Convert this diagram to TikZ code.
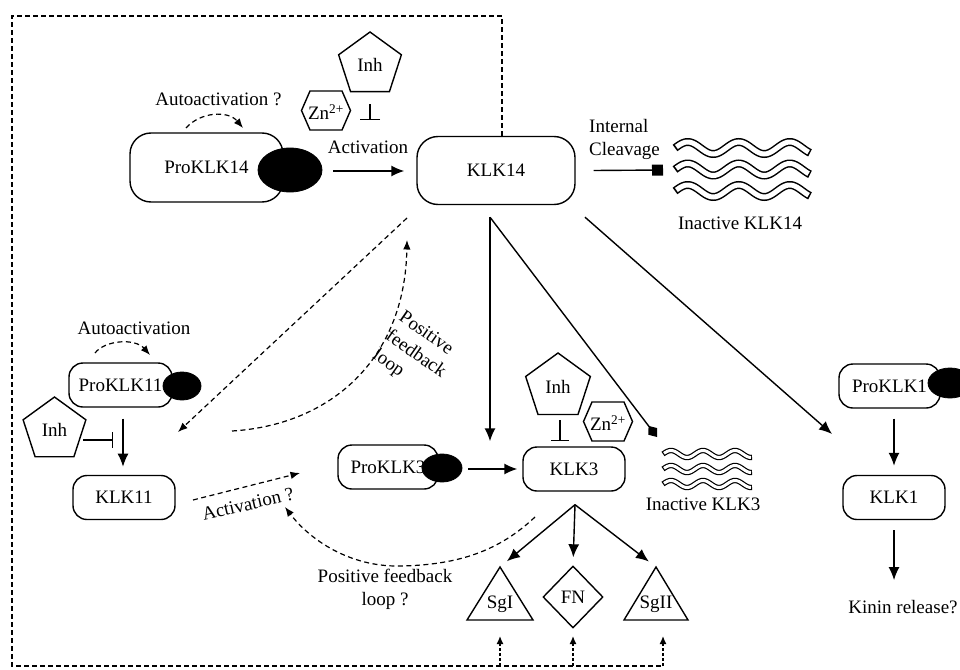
\documentclass[tikz,border=0pt]{standalone}
\usepackage{fontspec}
\setmainfont{Liberation Serif}
\usetikzlibrary{arrows.meta,shapes.geometric,calc}
\begin{document}
\begin{tikzpicture}[x=1pt,y=-1pt,
  every node/.style={font=\fontsize{19}{23}\selectfont, inner sep=0pt},
  bigbox/.style={draw, line width=1.4pt, rounded corners=21pt, minimum width=153pt, minimum height=69pt},
  smallbox/.style={draw, line width=1.4pt, rounded corners=14pt, minimum width=102pt, minimum height=44pt},
  blob/.style={ellipse, fill=black, draw=black, line width=0.8pt},
  solidarrow/.style={line width=1.4pt, -{Latex[length=13pt,width=11pt]}},
  dasharrow/.style={line width=1.2pt, dash pattern=on 5pt off 3.5pt, -{Latex[length=9.5pt,width=7.5pt]}},
  dotarrow/.style={line width=1.4pt, dash pattern=on 3pt off 2pt, -{Latex[length=8pt,width=7pt]}},
  frameline/.style={line width=1.2pt, dash pattern=on 5pt off 3pt},
  shapeline/.style={line width=1.4pt, line join=miter},
  pent/.style={draw, line width=1.4pt, regular polygon, regular polygon sides=5, minimum size=66pt},
  tubeout/.style={line width=8pt, line cap=butt, black},
  tubein/.style={line width=5pt, line cap=butt, white},
  tubeout3/.style={line width=5.4pt, line cap=butt, black},
  tubein3/.style={line width=3pt, line cap=butt, white},
  inhib/.style={line width=1.4pt, -{Bar[width=20pt,line width=1.4pt]}},
]
\useasboundingbox (0,0) rectangle (960,669);

% ---------- KLK14 row ----------
\node[bigbox] (proklk14) at (206.5,167.5) {ProKLK14};
\node[blob, minimum width=64pt, minimum height=44pt] (e14) at (290,170) {};
\node[bigbox, minimum width=158pt, minimum height=68pt] (klk14) at (496,170.5) {KLK14};

\node (auto14) at (218.5,99) {Autoactivation ?};
\coordinate (a14s) at (186,128);
\coordinate (a14e) at (243,128);
\draw[dasharrow] (a14s) .. controls (200,112) and (228,110) .. (a14e);

\node[pent] (inh1) at (370,65) {Inh};
\node (zn1) at (326,112) {Zn\textsuperscript{2+}};
\draw[shapeline] ($(zn1)+(-24.5,-1.5)$) -- ++(8.5,-19.5) -- ++(32,0) -- ++(8.5,19.5) -- ++(-8.5,19.5) -- ++(-32,0) -- cycle;
\draw[inhib] ($(inh1.south)+(0,12)$) -- ($(inh1.south)+(0,28)$);

\node (act14) at (368,147) {Activation};
\draw[solidarrow] ($(e14.east)+(11,1)$) -- ($(klk14.west)+(-12,0.5)$);

\node[align=left, anchor=west] (cleave) at (589,139) {Internal\\Cleavage};
\coordinate (clend) at (663,170);
\draw[line width=1.4pt, -{Square[length=11pt,width=11pt]}] ($(klk14.east)+(18,0)$) -- (clend);

\foreach \yy in {148,169.5,191} {
  \draw[tubeout] plot[domain=0:135, samples=90, smooth] ({675+\x},{\yy-6*sin(7.06*\x)});
  \draw[tubein] plot[domain=1.4:133.6, samples=90, smooth] ({675+\x},{\yy-6*sin(7.06*\x)});
}
\node (inact14) at (740,223) {Inactive KLK14};

% ---------- frame ----------
\coordinate (fr1) at (502,16);
\coordinate (fr2) at (12,16);
\coordinate (fr3) at (12,666);
\coordinate (fr4) at (663,666);
\draw[frameline] (klk14.north -| fr1) -- (fr1) -- (fr2) -- (fr3) -- (fr4);

% ---------- KLK3 area ----------
\node[pent, minimum size=68pt] (inh3) at (558,387) {Inh};
\node (zn3) at (608,423) {Zn\textsuperscript{2+}};
\draw[shapeline] ($(zn3)+(-24.5,-1.5)$) -- ++(8.5,-19.5) -- ++(32,0) -- ++(8.5,19.5) -- ++(-8.5,19.5) -- ++(-32,0) -- cycle;
\draw[inhib, -{Bar[width=18pt,line width=1.4pt]}] ($(inh3.south)+(2,5)$) -- ($(inh3.south)+(2,26)$);

\node[smallbox, minimum width=100pt] (proklk3) at (388,467) {ProKLK3};
\node[blob, minimum width=40pt, minimum height=28pt] (e3) at (442,468) {};
\node[smallbox] (klk3) at (574,469) {KLK3};
\draw[solidarrow] ($(e3.east)+(6,1)$) -- ($(klk3.west)+(-5,0)$);

\foreach \yy in {454,469,484} {
  \draw[tubeout3] plot[domain=0:89, samples=80, smooth] ({663+\x},{\yy-3.5*sin(11.25*\x)});
  \draw[tubein3] plot[domain=1:88, samples=80, smooth] ({663+\x},{\yy-3.5*sin(11.25*\x)});
}
\node (inact3) at (703,504) {Inactive KLK3};

% KLK14 outputs
\coordinate (k14a) at ($(klk14.south)+(-6,12)$);
\coordinate (k14b) at ($(klk14.south)+(89,12)$);
\coordinate (diatip) at (657,437);
\coordinate (k1tip) at (832,434);
\draw[solidarrow, shorten >=5pt] (k14a) -- (k14a |- klk3.north);
\draw[line width=1.4pt, -{Diamond[length=14pt,width=11pt]}] (k14a) -- (diatip);
\draw[solidarrow] (k14b) -- (k1tip);

% substrates
\coordinate (sgitop) at (500,567);
\draw[shapeline] (sgitop) -- (533,620) -- (467,620) -- cycle;
\node (sgi) at (500,604) {SgI};
\coordinate (sgiitop) at (656,567);
\draw[shapeline] (sgiitop) -- (688,620) -- (624,620) -- cycle;
\node (sgii) at (656,604) {SgII};
\node[diamond, draw, line width=1.4pt, minimum width=60pt, minimum height=62pt] (fn) at (573,597) {FN};

\coordinate (k3s) at ($(klk3.south)+(1,13)$);
\draw[solidarrow, shorten >=9pt] (k3s) -- (sgitop);
\draw[solidarrow, shorten >=8pt] (k3s) -- (fn.north);
\draw[solidarrow, shorten >=9pt] (k3s) -- (sgiitop);

\coordinate (b1) at (500,666);
\coordinate (b2) at (573,666);
\coordinate (b3) at (663,666);
\draw[dotarrow] (b1) -- (500,636);
\draw[dotarrow] (b2) -- (573,636);
\draw[dotarrow] (b3) -- (663,636);

% ---------- KLK11 area ----------
\node (auto11) at (134,328) {Autoactivation};
\coordinate (a11s) at (95,353);
\coordinate (a11e) at (150,355);
\draw[dasharrow] (a11s) .. controls (105,340) and (135,338) .. (a11e);

\node[smallbox, minimum width=103pt] (proklk11) at (120.5,385) {ProKLK11};
\node[blob, minimum width=38pt, minimum height=28pt] (e11) at (182,386) {};
\node[pent] (inh11) at (54.5,430) {Inh};
\node[smallbox] (klk11) at (124,497.5) {KLK11};
\draw[solidarrow] ($(proklk11.south)+(2.5,11)$) -- ($(proklk11.south)+(2.5,59)$);
\draw[inhib, -{Bar[width=16pt,line width=1.4pt]}] ($(inh11.center)+(28.5,10)$) -- ($(inh11.center)+(58.5,10)$);

% feedback between KLK14 and KLK11
\coordinate (f1s) at (407,218);
\coordinate (f1e) at (178,432);
\draw[dasharrow] (f1s) -- (f1e);
\coordinate (f2s) at (232,431);
\coordinate (f2e) at (407,240);
\draw[dasharrow] (f2s) .. controls (330,425) and (405,360) .. (f2e);
\node[rotate=-35, align=left] (pfl) at (415.5,355) {Positive\\feedback\\loop};

% KLK11 -> KLK3 activation
\coordinate (act11s) at (193,500);
\coordinate (act11e) at (300,473);
\draw[dasharrow] (act11s) -- (act11e);
\node[rotate=13] (act11) at (248,504) {Activation ?};

% KLK3 feedback
\coordinate (f3s) at (535,517);
\coordinate (f3m) at (400,566);
\coordinate (f3e) at (285,507);
\draw[dasharrow] (f3s) .. controls (500,550) and (460,565) .. (f3m) .. controls (350,567) and (310,540) .. (f3e);
\node[align=center] (pfl3) at (385,589) {Positive feedback\\loop ?};

% ---------- KLK1 ----------
\node[smallbox, minimum width=101pt] (proklk1) at (889.5,386) {ProKLK1};
\node[blob, minimum width=44pt, minimum height=30pt] (e1) at (950,383) {};
\node[smallbox] (klk1) at (894,497.5) {KLK1};
\node (kinin) at (903,607) {Kinin release?};
\draw[solidarrow, shorten <=10pt, shorten >=9pt] (proklk1.south -| klk1.north) -- (klk1.north);
\draw[solidarrow, shorten <=10pt, shorten >=20pt] (klk1.south) -- (klk1.south |- kinin.north);
\end{tikzpicture}
\end{document}
